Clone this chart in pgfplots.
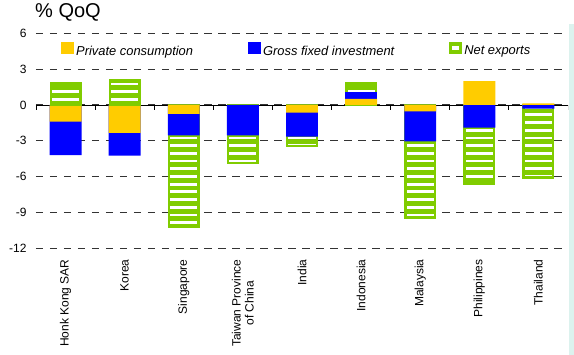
\documentclass[border=0pt]{standalone}
\usepackage{fontspec}
\setmainfont{Liberation Sans}
\usepackage{pgfplots}
\usepackage{pgfplotstable}
\pgfplotsset{compat=1.18}
\usetikzlibrary{patterns,calc}
\definecolor{pcyel}{RGB}{255,204,0}
\definecolor{gfiblue}{RGB}{0,0,255}
\definecolor{nxgreen}{RGB}{128,204,0}
\definecolor{edgecyan}{RGB}{220,242,238}
\pgfdeclarepatternformonly{hstripes}{\pgfpoint{-1pt}{0pt}}{\pgfpoint{41pt}{7.7pt}}{\pgfpoint{40pt}{7.7pt}}{%
  \pgfpathrectangle{\pgfpoint{-1pt}{0pt}}{\pgfpoint{42pt}{2.8pt}}\pgfusepath{fill}}

% Bar segment ends (% QoQ), cumulative from zero.
% Below zero: end of private consumption, gross fixed investment, net exports
\pgfplotstableread{
x PC GFI NX
0 -1.40 -4.20 nan
1 -2.35 -4.25 nan
2 -0.75 -2.55 -10.25
3 nan   -2.55 -4.85
4 -0.65 -2.65 -3.45
5 nan   nan   nan
6 -0.55 -3.05 -9.50
7 nan   -1.90 -6.60
8 nan   -0.30 -6.10
}\negdata
% Above zero
\pgfplotstableread{
x PC GFI NX
0 nan  nan  1.80
1 nan  nan  2.05
2 nan  nan  nan
3 nan  nan  nan
4 nan  nan  nan
5 0.50 1.05 1.80
6 nan  nan  nan
7 2.00 nan  nan
8 0.12 nan  nan
}\posdata

\pgfplotsset{
  common/.style={scale only axis, width=532pt, height=214.6pt,
    xmin=-0.5, xmax=8.5, ymin=-12, ymax=6, ybar, bar width=0.54,
    unbounded coords=discard},
  pcbar/.style={fill=pcyel, draw=none, bar shift=0pt},
  gfibar/.style={fill=gfiblue, draw=none, bar shift=0pt},
  nxbar/.style={draw=nxgreen, line width=2.4pt, bar width=0.5, bar shift=0pt,
    preaction={fill=nxgreen},
    preaction={pattern=hstripes, pattern color=white}},
}

\begin{document}
\begin{tikzpicture}
\begin{axis}[common,
  axis x line=middle, axis y line=left,
  y axis line style={draw=none},
  x axis line style={-, black, line width=0.8pt},
  xtick=\empty,
  ytick={-12,-9,-6,-3,0,3,6}, yticklabels={-12,-9,-6,-3,0,3,6},
  major tick length=0pt,
  ymajorgrids,
  grid style={black!80, line width=0.9pt, dash pattern=on 7.5pt off 6.5pt},
  yticklabel style={font=\fontsize{12}{14}\selectfont, xshift=-6pt},
  title={\% QoQ},
  title style={at={(0,1)}, anchor=base west, yshift=10pt, xshift=-1pt, inner sep=0pt,
    font=\fontsize{20}{22}\selectfont},
  legend columns=3,
  legend style={draw=none, fill=none, at={(axis cs:-0.08,4.55)}, anchor=west,
    font=\itshape\fontsize{12.9}{14}\selectfont, inner sep=0pt,
    nodes={inner sep=2.8pt},
    /tikz/every even column/.append style={column sep=52pt}},
]
\coordinate (O) at (rel axis cs:0,0);
\addlegendimage{legend image code/.code={\fill[pcyel] (0pt,-2.5pt) rectangle (12pt,9pt);}}
\addlegendentry{Private consumption}
\addlegendimage{legend image code/.code={\fill[gfiblue] (0pt,-2.5pt) rectangle (12pt,9pt);}}
\addlegendentry{Gross fixed investment}
\addlegendimage{legend image code/.code={\fill[nxgreen] (0pt,-2pt) rectangle (12pt,8.5pt);
  \fill[white] (2.7pt,1.7pt) rectangle (9.3pt,4.8pt);}}
\addlegendentry{Net exports}
\addplot[nxbar, forget plot] table[x=x, y=NX] {\negdata};
\addplot[gfibar, forget plot] table[x=x, y=GFI] {\negdata};
\addplot[pcbar, forget plot] table[x=x, y=PC] {\negdata};
\pgfplotsinvokeforeach{-0.5,0.5,1.5,2.5,3.5,4.5,5.5,6.5,7.5,8.5}{\draw[black, line width=0.8pt] (axis cs:#1,0) -- ++(0pt,-5pt);}
\end{axis}
\begin{axis}[common,
  hide y axis,
  axis x line=bottom, x axis line style={draw=none},
  xtick={0,...,8},
  xticklabels={Honk Kong SAR, Korea, Singapore, {Taiwan Province\\of China}, India, Indonesia, Malaysia, Philippines, Thailand},
  major tick length=0pt,
  xticklabel style={rotate=90, anchor=east, align=center,
    font=\fontsize{12}{13}\selectfont},
  xticklabel shift=8pt,
]
\addplot[nxbar] table[x=x, y=NX] {\posdata};
\addplot[gfibar] table[x=x, y=GFI] {\posdata};
\addplot[pcbar] table[x=x, y=PC] {\posdata};
\end{axis}
\fill[edgecyan] ($(O)+(533pt,-107pt)$) rectangle ($(O)+(538pt,224pt)$);
\path (O) ++(-36pt,-107pt) rectangle ++(574pt,355pt);
\end{tikzpicture}
\end{document}
